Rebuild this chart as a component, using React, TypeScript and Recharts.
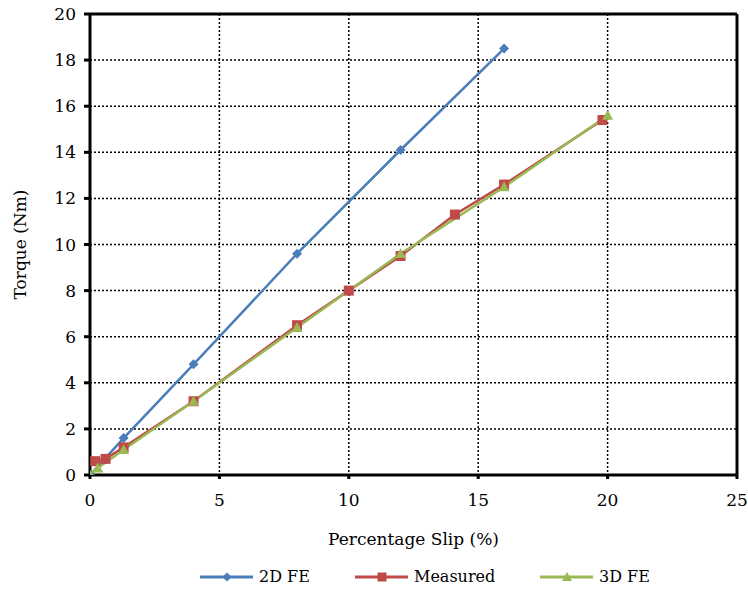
import React from "react";
import {
  LineChart,
  Line,
  XAxis,
  YAxis,
  CartesianGrid,
  ReferenceLine,
  Legend,
} from "recharts";

interface Pt {
  x: number;
  y: number;
}

const fe2d: Pt[] = [
  { x: 0, y: 0 },
  { x: 1.3, y: 1.6 },
  { x: 4, y: 4.8 },
  { x: 8, y: 9.6 },
  { x: 12, y: 14.1 },
  { x: 16, y: 18.5 },
];

const measured: Pt[] = [
  { x: 0.2, y: 0.6 },
  { x: 0.6, y: 0.7 },
  { x: 1.3, y: 1.2 },
  { x: 4, y: 3.2 },
  { x: 8, y: 6.5 },
  { x: 10, y: 8.0 },
  { x: 12, y: 9.5 },
  { x: 14.1, y: 11.3 },
  { x: 16, y: 12.6 },
  { x: 19.8, y: 15.4 },
];

const fe3d: Pt[] = [
  { x: 0, y: 0 },
  { x: 0.3, y: 0.3 },
  { x: 1.3, y: 1.1 },
  { x: 4, y: 3.2 },
  { x: 8, y: 6.4 },
  { x: 12, y: 9.6 },
  { x: 16, y: 12.5 },
  { x: 20, y: 15.6 },
];

const xTicks = [0, 5, 10, 15, 20, 25];
const yTicks = [0, 2, 4, 6, 8, 10, 12, 14, 16, 18, 20];

const BLUE = "#4A7EBB";
const RED = "#BE4B48";
const GREEN = "#98B954";
// Liberation Serif não aparece neste ambiente; DejaVu Serif é o único serifado que funciona
const FONT = '"DejaVu Serif", serif';

// marcadores no estilo do Excel
function Diamond(props: any) {
  const { cx, cy } = props;
  if (cx == null || cy == null) return <g />;
  const r = 5;
  return (
    <path
      d={`M${cx},${cy - r}L${cx + r},${cy}L${cx},${cy + r}L${cx - r},${cy}Z`}
      fill={BLUE}
    />
  );
}

function Square(props: any) {
  const { cx, cy } = props;
  if (cx == null || cy == null) return <g />;
  const r = 5;
  return <rect x={cx - r} y={cy - r} width={r * 2} height={r * 2} fill={RED} />;
}

function Triangle(props: any) {
  const { cx, cy } = props;
  if (cx == null || cy == null) return <g />;
  const r = 5.5;
  return (
    <path
      d={`M${cx},${cy - r}L${cx + r},${cy + r * 0.8}L${cx - r},${cy + r * 0.8}Z`}
      fill={GREEN}
    />
  );
}

const legendItems = [
  { name: "2D FE", color: BLUE, shape: "diamond", left: 200 },
  { name: "Measured", color: RED, shape: "square", left: 355 },
  { name: "3D FE", color: GREEN, shape: "triangle", left: 540 },
];

function LegendContent() {
  return (
    <div style={{ position: "relative", height: 24, fontFamily: FONT, fontSize: 16 }}>
      {legendItems.map((it) => (
        <div
          key={it.name}
          style={{ position: "absolute", left: it.left, top: 0, display: "flex", alignItems: "center" }}
        >
          <svg width={54} height={14}>
            <line x1={0} y1={7} x2={53} y2={7} stroke={it.color} strokeWidth={3} />
            {it.shape === "diamond" && <path d="M27,2.5L31.5,7L27,11.5L22.5,7Z" fill={it.color} />}
            {it.shape === "square" && <rect x={22.5} y={2.5} width={9} height={9} fill={it.color} />}
            {it.shape === "triangle" && <path d="M27,2L32,11L22,11Z" fill={it.color} />}
          </svg>
          <span style={{ marginLeft: 5, color: "#000" }}>{it.name}</span>
        </div>
      ))}
    </div>
  );
}

export default function App() {
  return (
    <div style={{ position: "absolute", left: 0, top: 0, width: 748, height: 596, background: "#fff" }}>
      <LineChart
        width={748}
        height={596}
        margin={{ top: 14, right: 11, left: 0, bottom: 0 }}
      >
        <CartesianGrid
          stroke="#000"
          strokeDasharray="2 2"
          strokeWidth={1.5}
          horizontalValues={yTicks}
          verticalValues={xTicks}
        />
        <XAxis
          type="number"
          dataKey="x"
          domain={[0, 25]}
          ticks={xTicks}
          allowDataOverflow
          axisLine={{ stroke: "#000", strokeWidth: 3 }}
          tickLine={{ stroke: "#000", strokeWidth: 3 }}
          tickSize={4}
          tickMargin={15}
          tick={{ fill: "#000", fontSize: 17, fontFamily: FONT }}
          height={92}
          label={{
            value: "Percentage Slip (%)",
            position: "insideBottom",
            offset: 22,
            fill: "#000",
            fontSize: 17,
            fontFamily: FONT,
          }}
        />
        <YAxis
          type="number"
          domain={[0, 20]}
          ticks={yTicks}
          allowDataOverflow
          axisLine={{ stroke: "#000", strokeWidth: 3 }}
          tickLine={{ stroke: "#000", strokeWidth: 3 }}
          tickSize={6}
          tickMargin={8}
          tick={{ fill: "#000", fontSize: 17, fontFamily: FONT }}
          width={90}
          label={{
            value: "Torque (Nm)",
            angle: -90,
            position: "insideLeft",
            offset: 20,
            style: { textAnchor: "middle" },
            fill: "#000",
            fontSize: 17,
            fontFamily: FONT,
          }}
        />
        <ReferenceLine y={20} stroke="#000" strokeWidth={3} />
        <ReferenceLine x={25} stroke="#000" strokeWidth={3} />
        <Line
          data={fe2d}
          dataKey="y"
          name="2D FE"
          stroke={BLUE}
          strokeWidth={2.5}
          dot={<Diamond />}
          activeDot={false}
          isAnimationActive={false}
          legendType="none"
        />
        <Line
          data={measured}
          dataKey="y"
          name="Measured"
          stroke={RED}
          strokeWidth={2.5}
          dot={<Square />}
          activeDot={false}
          isAnimationActive={false}
          legendType="none"
        />
        <Line
          data={fe3d}
          dataKey="y"
          name="3D FE"
          stroke={GREEN}
          strokeWidth={2.5}
          dot={<Triangle />}
          activeDot={false}
          isAnimationActive={false}
          legendType="none"
        />
        <Legend verticalAlign="bottom" height={29} content={<LegendContent />} />
      </LineChart>
    </div>
  );
}
